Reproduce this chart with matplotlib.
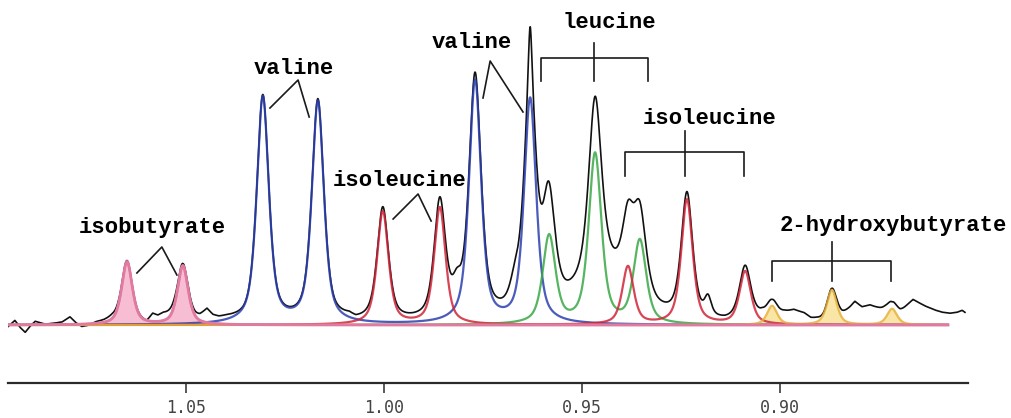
#! /usr/bin/env python3

import matplotlib.pyplot as plt
import numpy as np

# fitted peaks per metabolite: chemical shift (ppm), peak height, half width (ppm)
isobutyrate_ppm = [1.0649, 1.0508]
isobutyrate_h = [63, 59]
isobutyrate_w = 0.0016

valine_ppm = [1.0306, 1.0167, 0.9770, 0.9631]
valine_h = [227, 222, 243, 225]
valine_w = 0.0018

isoleucine_ppm = [1.0003, 0.9859, 0.9384, 0.9235, 0.9088]
isoleucine_h = [113, 117, 58, 125, 53]
isoleucine_w = 0.0017

leucine_ppm = [0.9583, 0.9467, 0.9354]
leucine_h = [88, 170, 83]
leucine_w = 0.0019

hydroxybutyrate_ppm = [0.9020, 0.8869, 0.8717]
hydroxybutyrate_h = [19, 35, 16]
hydroxybutyrate_w = 0.0015

# unassigned signals only present in the measured spectrum
other_ppm = [0.9631, 0.9586, 0.9467, 0.9442, 0.9384, 0.9182, 0.9816, 0.9669]
other_h = [52, 22, 5, 50, 4, 18, 22, 22]
other_w = [0.0005, 0.0015, 0.0018, 0.0082, 0.0015, 0.0010, 0.0013, 0.0015]

# baseline wander / noise of the measured spectrum
noise_ppm = [1.0949, 1.0932, 1.0919, 1.0906, 1.0894, 1.0881, 1.0856, 1.0831,
             1.0813, 1.0793, 1.0778, 1.0763, 1.0745, 1.0727, 1.0707, 1.0687,
             1.0674, 1.0649, 1.0616, 1.0599, 1.0584, 1.0571, 1.0558, 1.0545,
             1.0530, 1.0508, 1.0477, 1.0465, 1.0447, 1.0432, 1.0417, 1.0396,
             1.0379, 1.0354, 1.0124, 1.0088, 1.0071, 1.0043, 0.9159, 0.9139,
             0.9101, 0.9071, 0.9045, 0.9020, 0.8990, 0.8965, 0.8939, 0.8922,
             0.8907, 0.8889, 0.8869, 0.8844, 0.8823, 0.8811, 0.8793, 0.8773,
             0.8753, 0.8735, 0.8717, 0.8697, 0.8679, 0.8664, 0.8634, 0.8608,
             0.8591, 0.8571, 0.8553, 0.8540, 0.8533]
noise_h = [-2, 4, -3, -8, -2, 3, 0, 1,
           2, 7, 1, -3, -2, 1, 2, 4,
           3, 0, 0, -1, 7, 5, 7, 6,
           5, 0, 2, 4, 11, 5, 3, 3,
           2, 0, 0, 2, -1, 0, 0, 0,
           2, 3, 6, 2, 9, 12, 9, 4,
           3, 0, 0, 6, 15, 21, 16, 18,
           15, 12, 6, 10, 18, 24, 18, 14,
           12, 11, 12, 14, 12]

xticks = [1.05, 1.00, 0.95, 0.90]


def shape(x, centers, heights, widths, eta=0.6):
    widths = np.broadcast_to(widths, np.shape(centers))
    y = np.zeros_like(x)
    for c, h, w in zip(centers, heights, widths):
        d = ((x - c) / w) ** 2
        y += h * (eta / (1 + d) + (1 - eta) * np.exp(-np.log(2) * d))
    return y


x_fit = np.linspace(1.0949, 0.8576, 4000)
x_all = np.linspace(1.0949, 0.8533, 4000)

comps = {
    'valine': shape(x_fit, valine_ppm, valine_h, valine_w),
    'leucine': shape(x_fit, leucine_ppm, leucine_h, leucine_w),
    'isoleucine': shape(x_fit, isoleucine_ppm, isoleucine_h, isoleucine_w),
    'hydroxybutyrate': shape(x_fit, hydroxybutyrate_ppm, hydroxybutyrate_h, hydroxybutyrate_w),
    'isobutyrate': shape(x_fit, isobutyrate_ppm, isobutyrate_h, isobutyrate_w),
}

total = (shape(x_all, valine_ppm, valine_h, valine_w)
         + shape(x_all, leucine_ppm, leucine_h, leucine_w)
         + shape(x_all, isoleucine_ppm, isoleucine_h, isoleucine_w)
         + shape(x_all, hydroxybutyrate_ppm, hydroxybutyrate_h, hydroxybutyrate_w)
         + shape(x_all, isobutyrate_ppm, isobutyrate_h, isobutyrate_w)
         + shape(x_all, other_ppm, other_h, other_w)
         + np.interp(x_all, noise_ppm[::-1], noise_h[::-1]))

fig = plt.figure(figsize=(10.12, 4.18), dpi=100)
ax = fig.add_axes([8 / 1012, 35 / 418, 960 / 1012, 383 / 418])

ax.plot(x_all, total, color='#111111', lw=1.2, zorder=2)

colors = {
    'valine': '#2b3fb0',
    'leucine': '#3aa845',
    'isoleucine': '#d0263a',
    'hydroxybutyrate': '#e8b03c',
    'isobutyrate': '#e07aa0',
}
ax.fill_between(x_fit, 0, comps['isobutyrate'], color='#f7bdd3', lw=0, zorder=1)
ax.fill_between(x_fit, 0, comps['hydroxybutyrate'], color='#f9e6a6', lw=0, zorder=1)
for name, y in comps.items():
    ax.plot(x_fit, y, color=colors[name], lw=1.6, alpha=0.85, zorder=3)
# pink trace sits on top along the baseline
ax.plot(x_fit, comps['isobutyrate'], color=colors['isobutyrate'], lw=2.0, zorder=3)

# labels with their pointer lines
font = dict(family='Liberation Mono', weight='bold', size=16, ha='center', va='center')
ax.text(1.0586, 97, 'isobutyrate', **font)
ax.text(1.0227, 257, 'valine', **font)
ax.text(0.9960, 145, 'isoleucine', **font)
ax.text(0.9778, 282, 'valine', **font)
ax.text(0.9432, 303, 'leucine', **font)
ax.text(0.9179, 207, 'isoleucine', **font)
ax.text(0.8715, 99, '2-hydroxybutyrate', **font)

lk = dict(color='#1a1a1a', lw=1.2, zorder=4)
ax.plot([1.0624, 1.0561, 1.0523], [52, 78, 50], **lk)
ax.plot([1.0288, 1.0217, 1.0189], [217, 245, 208], **lk)
ax.plot([0.9977, 0.9914, 0.9881], [106, 131, 104], **lk)
ax.plot([0.9750, 0.9732, 0.9649], [227, 264, 213], **lk)


def bracket(x0, x1, xc, y, drop, rise):
    ax.plot([x0, x0, x1, x1], [y - drop, y, y, y - drop], **lk)
    ax.plot([xc, xc], [y - drop, y + rise], **lk)


bracket(0.9604, 0.9333, 0.9470, 267, 23, 15)
bracket(0.9391, 0.9091, 0.9240, 173, 24, 21)
bracket(0.9020, 0.8720, 0.8869, 64, 20, 19)

ax.set_xlim(1.09495, 0.85253)
ax.set_ylim(-58, 325)
for s in ['left', 'right', 'top']:
    ax.spines[s].set_visible(False)
ax.spines['bottom'].set_linewidth(1.6)
ax.spines['bottom'].set_color('#2a2a2a')
ax.set_yticks([])
ax.set_xticks(xticks)
ax.set_xticklabels(['%.2f' % t for t in xticks], family='DejaVu Sans Mono',
                   fontsize=12, color='#444444')
ax.tick_params(axis='x', direction='out', length=7.2, width=1.1,
               color='#2a2a2a', pad=4.5)

plt.savefig('out.png', dpi=100)
